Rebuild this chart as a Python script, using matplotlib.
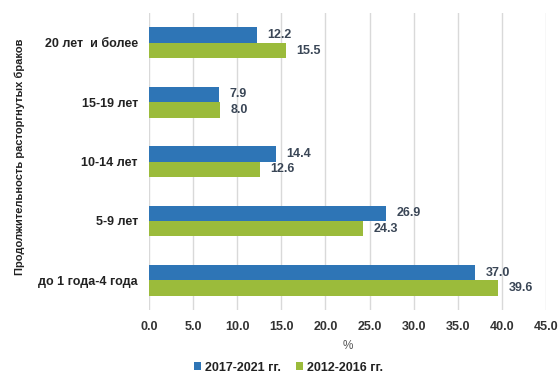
import matplotlib.pyplot as plt
import numpy as np

plt.rcParams['font.family'] = ['Liberation Sans', 'DejaVu Sans']

categories = ["до 1 года-4 года", "5-9 лет", "10-14 лет", "15-19 лет", "20 лет  и более"]
series_2017 = [37.0, 26.9, 14.4, 7.9, 12.2]
series_2012 = [39.6, 24.3, 12.6, 8.0, 15.5]
labels = ["2017-2021 гг.", "2012-2016 гг."]
ticks = np.arange(0, 46, 5)

blue = "#2e75b6"
green = "#9bbb3b"
text_col = "#3a4656"

fig = plt.figure(figsize=(5.6, 3.74), dpi=100)
ax = fig.add_axes([0.266, 0.171, 0.709, 0.794])

y = np.arange(len(categories))
h = 0.26
ax.barh(y + h / 2, series_2017, height=h, color=blue, label=labels[0], zorder=3)
ax.barh(y - h / 2, series_2012, height=h, color=green, label=labels[1], zorder=3)

for yi, v in zip(y, series_2017):
    ax.text(v + 1.2, yi + h / 2, f"{v:.1f}", va="center", ha="left",
            fontsize=9, fontweight="bold", color=text_col)
for yi, v in zip(y, series_2012):
    ax.text(v + 1.2, yi - h / 2, f"{v:.1f}", va="center", ha="left",
            fontsize=9, fontweight="bold", color=text_col)

ax.set_xlim(0, 45)
ax.set_ylim(-0.5, len(categories) - 0.5)
ax.set_xticks(ticks)
ax.set_xticklabels([f"{t:.1f}" for t in ticks], fontsize=9, fontweight="bold", color="#333333")
ax.set_yticks(y)
ax.set_yticklabels(categories, fontsize=9, fontweight="bold", color="#222222")
ax.tick_params(length=0, pad=8)
ax.xaxis.grid(True, color="#d9d9d9", linewidth=1, zorder=0)
for s in ax.spines.values():
    s.set_visible(False)

ax.set_xlabel("%", fontsize=8.5, color="#555555", labelpad=5)
fig.text(0.035, 0.58, "Продолжительность расторгнутых браков", rotation=90,
         ha="center", va="center", fontsize=8, fontweight="bold", color="#222222")

fig.legend(loc="center", bbox_to_anchor=(0.515, 0.017), ncol=2, frameon=False,
           prop={"size": 9, "weight": "bold"}, handlelength=0.6, handleheight=0.6,
           columnspacing=1.2, handletextpad=0.3, labelcolor="#222222")

fig.savefig("out.png", dpi=100)
